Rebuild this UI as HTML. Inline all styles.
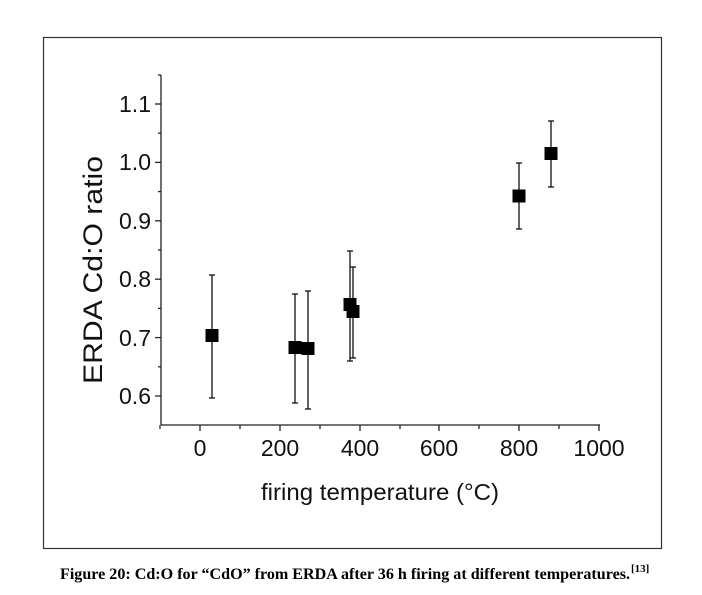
<!DOCTYPE html>
<html><head><meta charset="utf-8"><style>
html,body{margin:0;padding:0;background:#fff;}
svg{display:block;}
</style></head><body>
<svg width="702" height="595" viewBox="0 0 702 595" xmlns="http://www.w3.org/2000/svg" font-family="Liberation Sans, Arial, sans-serif">
<rect x="43.5" y="37.5" width="618" height="511" fill="none" stroke="#333" stroke-width="1.2"/>
<g stroke="#222" stroke-width="1.3" fill="none">
<line x1="161" y1="75" x2="161" y2="425"/>
<line x1="161" y1="425" x2="600" y2="425"/>
<line x1="155" y1="104" x2="161" y2="104"/><line x1="155" y1="162.4" x2="161" y2="162.4"/>
<line x1="155" y1="220.8" x2="161" y2="220.8"/><line x1="155" y1="279.2" x2="161" y2="279.2"/>
<line x1="155" y1="337.6" x2="161" y2="337.6"/><line x1="155" y1="396" x2="161" y2="396"/>
<line x1="158" y1="75" x2="161" y2="75"/><line x1="158" y1="133.2" x2="161" y2="133.2"/>
<line x1="158" y1="191.6" x2="161" y2="191.6"/><line x1="158" y1="250" x2="161" y2="250"/>
<line x1="158" y1="308.4" x2="161" y2="308.4"/><line x1="158" y1="366.8" x2="161" y2="366.8"/>
<line x1="200" y1="425" x2="200" y2="431"/><line x1="280" y1="425" x2="280" y2="431"/>
<line x1="360" y1="425" x2="360" y2="431"/><line x1="439" y1="425" x2="439" y2="431"/>
<line x1="519" y1="425" x2="519" y2="431"/><line x1="599" y1="425" x2="599" y2="431"/>
<line x1="160" y1="425" x2="160" y2="429"/><line x1="240" y1="425" x2="240" y2="429"/>
<line x1="320" y1="425" x2="320" y2="429"/><line x1="400" y1="425" x2="400" y2="429"/>
<line x1="479" y1="425" x2="479" y2="429"/><line x1="559" y1="425" x2="559" y2="429"/>
</g>
<g font-size="23" fill="#111" text-anchor="end">
<text x="151" y="112">1.1</text><text x="151" y="170">1.0</text>
<text x="151" y="229">0.9</text><text x="151" y="287">0.8</text>
<text x="151" y="346">0.7</text><text x="151" y="404">0.6</text>
</g>
<g font-size="23" fill="#111" text-anchor="middle">
<text x="200" y="456">0</text><text x="280" y="456">200</text><text x="360" y="456">400</text>
<text x="439" y="456">600</text><text x="519" y="456">800</text><text x="599" y="456">1000</text>
</g>
<text x="380" y="500" font-size="23" fill="#111" text-anchor="middle" textLength="238" lengthAdjust="spacingAndGlyphs">firing temperature (°C)</text>
<text transform="translate(102,270) rotate(-90)" font-size="27" fill="#111" text-anchor="middle" textLength="228" lengthAdjust="spacingAndGlyphs">ERDA Cd:O ratio</text>
<g stroke="#111" stroke-width="1.3">
<line x1="212" y1="275" x2="212" y2="398"/><line x1="209" y1="275" x2="215" y2="275"/><line x1="209" y1="398" x2="215" y2="398"/>
<line x1="295" y1="294" x2="295" y2="403"/><line x1="292" y1="294" x2="298" y2="294"/><line x1="292" y1="403" x2="298" y2="403"/>
<line x1="308" y1="291" x2="308" y2="409"/><line x1="305" y1="291" x2="311" y2="291"/><line x1="305" y1="409" x2="311" y2="409"/>
<line x1="350" y1="251" x2="350" y2="361"/><line x1="347" y1="251" x2="353" y2="251"/><line x1="347" y1="361" x2="353" y2="361"/>
<line x1="353" y1="267" x2="353" y2="358"/><line x1="350" y1="267" x2="356" y2="267"/><line x1="350" y1="358" x2="356" y2="358"/>
<line x1="519" y1="163" x2="519" y2="229"/><line x1="516" y1="163" x2="522" y2="163"/><line x1="516" y1="229" x2="522" y2="229"/>
<line x1="551" y1="121" x2="551" y2="187"/><line x1="548" y1="121" x2="554" y2="121"/><line x1="548" y1="187" x2="554" y2="187"/>
</g>
<g fill="#000">
<rect x="205.5" y="329" width="13" height="13"/>
<rect x="288.5" y="341" width="13" height="13"/>
<rect x="301.5" y="342" width="13" height="13"/>
<rect x="343.5" y="298" width="13" height="13"/>
<rect x="346.5" y="305" width="13" height="13"/>
<rect x="512.5" y="189.5" width="13" height="13"/>
<rect x="544.5" y="147" width="13" height="13"/>
</g>
<text x="60" y="579" font-family="Liberation Serif, Times New Roman, serif" font-weight="bold" font-size="15.5" fill="#000" textLength="570" lengthAdjust="spacingAndGlyphs">Figure 20: Cd:O for “CdO” from ERDA after 36 h firing at different temperatures.</text>
<text x="631" y="572" font-family="Liberation Serif, Times New Roman, serif" font-weight="bold" font-size="11" fill="#000">[13]</text>
</svg>
</body></html>
